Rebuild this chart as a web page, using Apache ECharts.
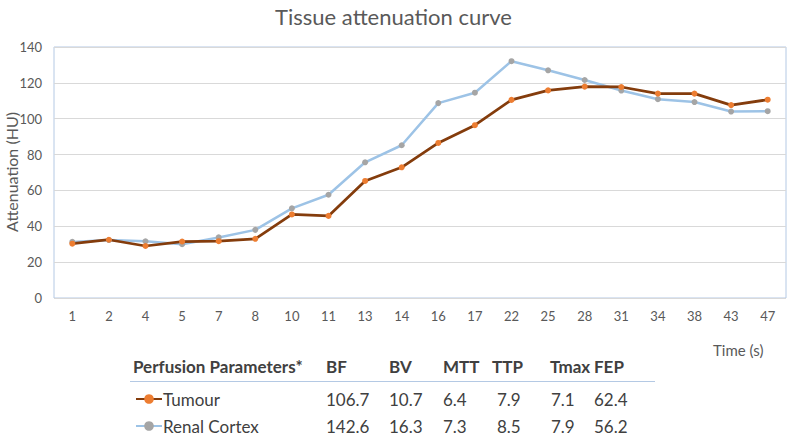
<!DOCTYPE html>
<html>
<head>
<meta charset="utf-8">
<script src="https://cdn.jsdelivr.net/npm/echarts@6/dist/echarts.min.js"></script>
<style>
  html, body { margin: 0; padding: 0; background: #fff; }
  #chart { width: 787px; height: 435px; }
</style>
</head>
<body>
<div id="chart"></div>
<script>
// time points (s)
var times = ['1', '2', '4', '5', '7', '8', '10', '11', '13', '14', '16', '17', '22', '25', '28', '31', '34', '38', '43', '47'];
// attenuation (HU)
var tumour = [30.3, 32.5, 29.0, 31.5, 31.7, 33.0, 46.6, 45.8, 65.3, 72.9, 86.5, 96.4, 110.5, 115.8, 117.9, 117.7, 114.0, 114.0, 107.6, 110.6];
var cortex = [31.3, 32.3, 31.6, 30.0, 33.8, 38.0, 50.0, 57.6, 75.7, 85.2, 108.7, 114.5, 132.1, 127.0, 121.6, 115.7, 110.9, 109.3, 104.0, 104.2];

// perfusion table
var paramNames = ['BF', 'BV', 'MTT', 'TTP', 'Tmax', 'FEP'];
var tumourParams = ['106.7', '10.7', '6.4', '7.9', '7.1', '62.4'];
var cortexParams = ['142.6', '16.3', '7.3', '8.5', '7.9', '56.2'];

(function() {
  var font = 'Lato, "Open Sans", sans-serif';
  var ink = '#404040';
  var muted = '#595959';
  var chart = echarts.init(document.getElementById('chart'), null, { renderer: 'svg' });

  // table layout (left edges / row centres)
  var headX = [326, 389, 443, 492, 550, 594];
  var numX = [326, 389, 443, 497, 551, 594];
  var rowY = [366, 399, 426];

  function txt(s, x, y, weight, size, color) {
    return {
      type: 'text', x: x, y: y,
      style: { text: s, fontFamily: font, fontWeight: weight, fontSize: size, fill: color, verticalAlign: 'middle', align: 'left' }
    };
  }

  var yName = txt('Attenuation (HU)', 11, 172, 'normal', 16, muted);
  yName.rotation = Math.PI / 2;
  yName.style.align = 'center';

  var graphics = [
    yName,
    txt('Perfusion Parameters*', 133, rowY[0], 'bold', 17, ink),
    { type: 'line', shape: { x1: 130, y1: 381.5, x2: 655, y2: 381.5 }, style: { stroke: '#b4c9e4', lineWidth: 1 } },
    txt('Time (s)', 713, 350, 'normal', 15, muted)
  ];
  paramNames.forEach(function(p, i) {
    graphics.push(txt(p, headX[i], rowY[0], 'bold', 17, ink));
    graphics.push(txt(tumourParams[i], numX[i], rowY[1], 'normal', 17, ink));
    graphics.push(txt(cortexParams[i], numX[i], rowY[2], 'normal', 17, ink));
  });

  var legendText = { fontSize: 17, lineHeight: 18, color: ink, padding: [0, 0, 0, -4] };

  chart.setOption({
    animation: false,
    textStyle: { fontFamily: font },
    title: {
      text: 'Tissue attenuation curve',
      left: 'center',
      top: 0,
      textStyle: { fontSize: 22, fontWeight: 'normal', color: muted, fontFamily: font }
    },
    legend: [
      {
        data: ['Tumour'], left: 130, top: rowY[1] - 14, orient: 'vertical',
        itemWidth: 26, itemHeight: 12, itemGap: 0, textStyle: legendText
      },
      {
        data: ['Renal Cortex'], left: 130, top: rowY[2] - 14, orient: 'vertical',
        itemWidth: 26, itemHeight: 12, itemGap: 0, textStyle: legendText
      }
    ],
    grid: {
      left: 54, right: 1, top: 47, bottom: 137,
      outerBoundsMode: 'none',
      show: true, borderColor: '#b4c9e4', borderWidth: 1
    },
    xAxis: {
      type: 'category',
      data: times,
      boundaryGap: true,
      axisLine: { show: false },
      axisTick: { show: false },
      axisLabel: { color: muted, fontSize: 13, margin: 11 }
    },
    yAxis: {
      type: 'value',
      min: 0, max: 140, interval: 20,
      axisLine: { show: false },
      axisTick: { show: false },
      axisLabel: { color: muted, fontSize: 13, margin: 12 },
      splitLine: { lineStyle: { color: '#d9d9d9', width: 1 } }
    },
    series: [
      {
        name: 'Renal Cortex',
        type: 'line',
        data: cortex,
        symbol: 'circle',
        symbolSize: 6,
        lineStyle: { color: '#9dc3e6', width: 2.5 },
        itemStyle: { color: '#a5a5a5' }
      },
      {
        name: 'Tumour',
        type: 'line',
        data: tumour,
        symbol: 'circle',
        symbolSize: 6,
        lineStyle: { color: '#843c0c', width: 2.75 },
        itemStyle: { color: '#ed7d31' }
      }
    ],
    graphic: graphics
  });
})();
</script>
</body>
</html>
